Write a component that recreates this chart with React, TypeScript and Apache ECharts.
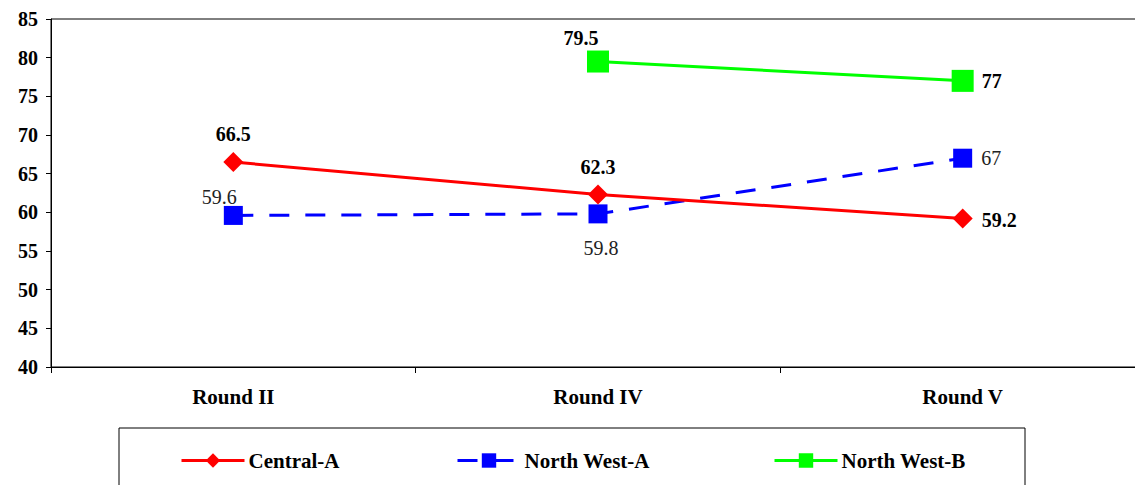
import React, { useEffect, useRef } from "react";
import * as echarts from "echarts";

const categories = ["Round II", "Round IV", "Round V"];
const centralA = [66.5, 62.3, 59.2];
const northWestA = [59.6, 59.8, 67];
const northWestB = [null, 79.5, 77];
const yTicks = { min: 40, max: 85, interval: 5 };

const FONT = "'Liberation Serif', 'Times New Roman', serif";

export default function App() {
  const ref = useRef<HTMLDivElement>(null);
  useEffect(() => {
    if (!ref.current) return;
    const chart = echarts.init(ref.current, null, { renderer: "svg" });
    const boldLabel = { show: true, fontFamily: FONT, fontWeight: "bold", fontSize: 20, color: "#000" };
    const normLabel = { show: true, fontFamily: FONT, fontWeight: "normal", fontSize: 20, color: "#222" };
    const legendBase = {
      top: 450,
      padding: 0,
      itemWidth: 63,
      itemHeight: 18,
      itemGap: 10,
      lineStyle: { width: 3 },
      textStyle: { fontFamily: FONT, fontWeight: "bold", fontSize: 21, color: "#000", padding: [0, 0, 0, -1] },
      selectedMode: false,
    };
    chart.setOption({
      animation: false,
      backgroundColor: "#fff",
      grid: {
        left: 51,
        width: 1094,
        top: 19,
        bottom: 118,
        outerBoundsMode: "none",
        containLabel: false,
        show: true,
        borderColor: "#000",
        borderWidth: 1,
        backgroundColor: "transparent",
      },
      xAxis: {
        type: "category",
        data: categories,
        boundaryGap: true,
        axisLine: { lineStyle: { color: "#000", width: 1 } },
        axisTick: { show: true, length: 6, lineStyle: { color: "#000" } },
        axisLabel: { fontFamily: FONT, fontWeight: "bold", fontSize: 21, color: "#000", margin: 19 },
        splitLine: { show: false },
      },
      yAxis: {
        type: "value",
        min: yTicks.min,
        max: yTicks.max,
        interval: yTicks.interval,
        axisLine: { show: true, lineStyle: { color: "#000", width: 1 } },
        axisTick: { show: true, length: 5, lineStyle: { color: "#000" } },
        axisLabel: { fontFamily: FONT, fontWeight: "bold", fontSize: 20, color: "#000", margin: 13 },
        splitLine: { show: false },
      },
      legend: [
        { ...legendBase, left: 180, data: ["Central-A"] },
        { ...legendBase, left: 456, data: ["North West-A"] },
        { ...legendBase, left: 773, data: ["North West-B"] },
      ],
      graphic: [
        {
          type: "rect",
          shape: { x: 119, y: 428, width: 906, height: 80 },
          style: { fill: "none", stroke: "#000", lineWidth: 1 },
          silent: true,
        },
      ],
      series: [
        {
          name: "Central-A",
          type: "line",
          data: centralA.map((v, i) => ({
            value: v,
            label:
              i === 2
                ? { position: "right", offset: [1, 1] }
                : { position: "top", offset: [0, 0] },
          })),
          symbol: "diamond",
          symbolSize: 20,
          itemStyle: { color: "#FF0000" },
          lineStyle: { color: "#FF0000", width: 3 },
          label: { ...boldLabel, distance: 8 },
          z: 3,
        },
        {
          name: "North West-A",
          type: "line",
          data: northWestA.map((v, i) => ({
            value: v,
            label:
              i === 0
                ? { position: "top", offset: [-14, 6] }
                : i === 1
                ? { position: "bottom", offset: [3, 10] }
                : { position: "right", offset: [4, 0] },
          })),
          symbol: "rect",
          symbolSize: 19,
          itemStyle: { color: "#0000FF" },
          lineStyle: { color: "#0000FF", width: 3, type: [20, 16] },
          label: { ...normLabel, distance: 5 },
          z: 2,
        },
        {
          name: "North West-B",
          type: "line",
          data: northWestB.map((v, i) => ({
            value: v,
            label:
              i === 1
                ? { position: "top", offset: [-17, 2] }
                : { position: "right", offset: [3, 0] },
          })),
          symbol: "rect",
          symbolSize: 22,
          connectNulls: false,
          itemStyle: { color: "#00FF00" },
          lineStyle: { color: "#00FF00", width: 3 },
          label: { ...boldLabel, distance: 5 },
          z: 2,
        },
      ],
    });
    return () => chart.dispose();
  }, []);
  return (
    <div
      ref={ref}
      style={{ position: "fixed", left: 0, top: 0, width: 1135, height: 485, background: "#fff" }}
    />
  );
}
